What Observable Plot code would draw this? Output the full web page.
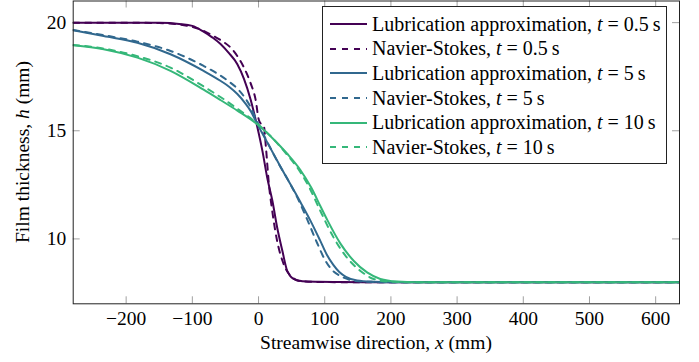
<!DOCTYPE html>
<html>
<head>
<meta charset="utf-8">
<script src="https://cdn.jsdelivr.net/npm/d3@7"></script>
<script src="https://cdn.jsdelivr.net/npm/@observablehq/plot@0.6"></script>
<style>
  body { margin: 0; background: #fff; }
  #chart { position: relative; width: 699px; height: 362px; font-family: "Liberation Serif", "Times New Roman", serif; color: #000; }
  #chart > svg { position: absolute; left: 0; top: 0; }
  .ylabel { position: absolute; left: 23px; top: 152px; transform: translate(-50%, -50%) rotate(-90deg); white-space: nowrap; font-size: 19.5px; }
  .xlabel { position: absolute; left: 376px; top: 343px; transform: translate(-50%, -50%); white-space: nowrap; font-size: 19.5px; }
  .legend { position: absolute; left: 322px; top: 6px; width: 345px; height: 158px; border: 1px solid #222; box-sizing: border-box; background: #fff; padding: 5px 0 0 7px; font-size: 20px; }
  .legend .row { display: flex; align-items: center; height: 24.6px; white-space: nowrap; }
  .legend .row svg { display: block; margin-right: 5px; flex: none; }
</style>
</head>
<body>
<div id="chart"></div>
<script>
// Film thickness h (mm) against streamwise position x (mm)
const lub05X = [-280, -200, -150, -120, -100, -85, -70, -57, -45, -32, -22, -12, -2, 6, 13, 21, 28, 36, 43, 48, 53, 60, 74, 90, 120, 160, 636];
const lub05H = [20, 20, 19.99, 19.94, 19.85, 19.62, 19.32, 19.0, 18.6, 18.08, 17.4, 16.45, 15.2, 14.05, 12.85, 11.75, 10.55, 9.45, 8.55, 8.28, 8.15, 8.08, 8.03, 8.02, 8.01, 8.0, 8.0];

const ns05X = [-280, -200, -150, -120, -100, -85, -68, -55, -42, -32, -22, -12, -4.5, 0.5, 5, 8, 11, 15.6, 20.7, 28, 36, 41, 46, 52, 58.5, 70, 90, 130, 636];
const ns05H = [20, 20, 19.98, 19.92, 19.8, 19.65, 19.38, 19.15, 18.84, 18.45, 17.92, 17.2, 16.45, 15.5, 15.28, 15.22, 14.3, 12.55, 11.3, 9.92, 9.0, 8.62, 8.38, 8.2, 8.08, 8.03, 8.01, 8.0, 8.0];

const lub5X = [-280, -234, -183, -133, -83, -57, -45, -32, -20, -12, -2, 10, 33, 63, 78, 93, 103, 113, 122, 132, 149, 174, 200, 636];
const lub5H = [19.65, 19.38, 19.07, 18.54, 17.77, 17.3, 17.05, 16.7, 16.27, 15.92, 15.32, 14.64, 13.35, 11.72, 10.87, 9.93, 9.28, 8.8, 8.47, 8.25, 8.08, 8.02, 8.0, 8.0];

const ns5X = [-280, -234, -183, -133, -83, -57, -45, -32, -20, -12, -2, 10, 30, 45, 58.5, 73.5, 88.7, 100, 110, 124, 139, 160, 185, 636];
const ns5H = [19.66, 19.42, 19.12, 18.69, 18.0, 17.54, 17.28, 16.95, 16.5, 16.1, 15.42, 14.68, 13.5, 12.7, 11.92, 10.9, 9.8, 9.05, 8.6, 8.28, 8.1, 8.02, 8.0, 8.0];

const lub10X = [-280, -234, -183, -133, -83, -57, -32, -2, 23, 43, 63, 80, 93.7, 103.8, 124, 144, 164, 184, 209, 240, 636];
const lub10H = [18.95, 18.77, 18.38, 17.77, 16.9, 16.41, 15.93, 15.3, 14.6, 13.95, 13.2, 12.35, 11.5, 10.88, 9.77, 8.98, 8.45, 8.15, 8.03, 8.0, 8.0];

const ns10X = [-280, -234, -183, -133, -83, -57, -32, -2, 10, 23, 43, 63, 78, 91, 113.7, 134, 154, 174, 200, 225, 636];
const ns10H = [18.97, 18.8, 18.45, 17.92, 17.05, 16.55, 16.02, 15.33, 15.0, 14.6, 13.9, 13.1, 12.3, 11.45, 10.05, 9.12, 8.52, 8.15, 8.02, 8.0, 8.0];

const xTicks = [-200, -100, 0, 100, 200, 300, 400, 500, 600];
const yTicks = [10, 15, 20];

const seriesNames = [
  "Lubrication approximation, <i>t</i> = 0.5\u2009s",
  "Navier-Stokes, <i>t</i> = 0.5\u2009s",
  "Lubrication approximation, <i>t</i> = 5\u2009s",
  "Navier-Stokes, <i>t</i> = 5\u2009s",
  "Lubrication approximation, <i>t</i> = 10\u2009s",
  "Navier-Stokes, <i>t</i> = 10\u2009s"
];
const seriesX = [lub05X, ns05X, lub5X, ns5X, lub10X, ns10X];
const seriesH = [lub05H, ns05H, lub5H, ns5H, lub10H, ns10H];
const seriesColor = ["#440154", "#440154", "#31688e", "#31688e", "#35b779", "#35b779"];
const seriesDashed = [false, true, false, true, false, true];

const W = 699, H = 362;
const mL = 72.7, mR = 20, mT = 0.5, mB = 58.7;
const innerW = W - mL - mR, innerH = H - mT - mB;
const tickLen = 7, tickColor = "#a0a0a0";

const lineMarks = seriesX.map((xs, i) =>
  Plot.line(xs.map((x, j) => ({x, h: seriesH[i][j]})), {
    x: "x", y: "h", stroke: seriesColor[i], strokeWidth: 2,
    strokeDasharray: seriesDashed[i] ? "6,6" : null, curve: "monotone-x", clip: true
  })
);

const plot = Plot.plot({
  width: W, height: H,
  marginLeft: mL, marginRight: mR, marginTop: mT, marginBottom: mB,
  style: {fontFamily: '"Liberation Serif", "Times New Roman", serif', fontSize: "19.5px", color: "#000", background: "transparent", overflow: "visible"},
  x: {domain: [-280, 636]},
  y: {domain: [7, 21]},
  marks: [
    Plot.axisX(xTicks, {tickSize: 0, tickPadding: 7, label: null, fontSize: 19.5}),
    Plot.axisY(yTicks, {tickSize: 0, tickPadding: 7, label: null, fontSize: 19.5}),
    // inward ticks on all four sides of the frame
    Plot.tickX(xTicks, {x: d => d, insetTop: innerH - tickLen, stroke: tickColor}),
    Plot.tickX(xTicks, {x: d => d, insetBottom: innerH - tickLen, stroke: tickColor}),
    Plot.tickY(yTicks, {y: d => d, insetRight: innerW - tickLen, stroke: tickColor}),
    Plot.tickY(yTicks, {y: d => d, insetLeft: innerW - tickLen, stroke: tickColor}),
    ...lineMarks,
    Plot.frame({stroke: "#222", strokeWidth: 1})
  ]
});

const chart = document.getElementById("chart");
chart.appendChild(plot);

const yl = document.createElement("div");
yl.className = "ylabel";
yl.innerHTML = "Film thickness, <i>h</i> (mm)";
chart.appendChild(yl);

const xl = document.createElement("div");
xl.className = "xlabel";
xl.innerHTML = "Streamwise direction, <i>x</i> (mm)";
chart.appendChild(xl);

const legend = document.createElement("div");
legend.className = "legend";
seriesNames.forEach((name, i) => {
  const row = document.createElement("div");
  row.className = "row";
  const dash = seriesDashed[i] ? ' stroke-dasharray="6,6"' : "";
  row.innerHTML = `<svg width="37" height="10"><line x1="0" y1="5" x2="37" y2="5" stroke="${seriesColor[i]}" stroke-width="2"${dash}/></svg><span>${name}</span>`;
  legend.appendChild(row);
});
chart.appendChild(legend);
</script>
</body>
</html>
